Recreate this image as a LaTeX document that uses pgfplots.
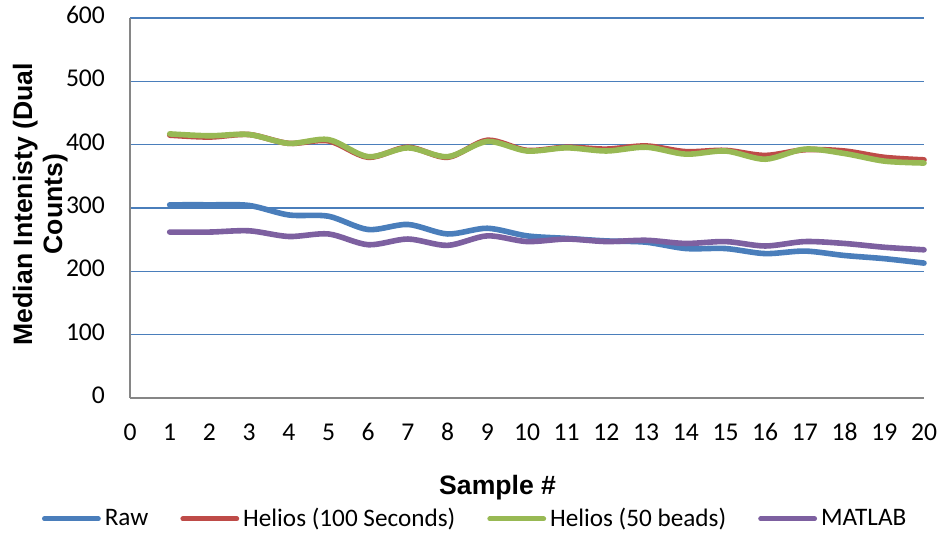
\documentclass[border=0pt]{standalone}
\usepackage{pgfplots}
\pgfplotsset{compat=1.18}
\usepackage{fontspec}
\setmainfont{Carlito}
\newfontfamily\labelfont{Liberation Sans}

\definecolor{rawblue}{HTML}{4A7EBB}
\definecolor{heliosred}{HTML}{BE4B48}
\definecolor{heliosgreen}{HTML}{98B954}
\definecolor{matlabpurple}{HTML}{7D60A0}
\definecolor{gridblue}{HTML}{4A7EBB}
\definecolor{axisgray}{HTML}{868686}

\begin{document}
\begin{tikzpicture}
\begin{axis}[
  name=ax,
  scale only axis,
  width=397pt, height=190pt,
  xmin=0, xmax=20, ymin=0, ymax=600,
  xtick={0,1,...,20}, ytick={0,100,...,600},
  axis lines*=left,
  axis line style={draw=axisgray, line width=0.8pt},
  major tick length=0pt,
  ymajorgrids,
  grid style={draw=gridblue, line width=0.7pt},
  tick label style={font=\fontsize{12.8}{14}\selectfont},
  /pgf/number format/assume math mode=true,
  typeset ticklabels with strut,
  xticklabel style={yshift=-8pt},
  yticklabel style={xshift=-9pt},
  xlabel={\labelfont\bfseries Sample \#},
  xlabel style={at={(axis description cs:0.463,-0.237)}, anchor=center, font=\fontsize{13.3}{15}\selectfont},
  ylabel={\labelfont\bfseries Median Intenisty (Dual\\\labelfont\bfseries Counts)},
  ylabel style={at={(axis description cs:-0.113,0.51)}, anchor=center, align=center,
    font=\fontsize{13.3}{15}\selectfont},
  legend columns=4,
  legend style={draw=none, fill=none, at={(axis description cs:0.436,-0.318)}, anchor=center,
    font=\fontsize{12.6}{14}\selectfont, inner sep=0pt,
    /tikz/every even column/.append style={column sep=14pt}},
  legend cell align=left,
  legend image code/.code={\draw[#1, line width=2.4pt, line cap=round] (0pt,0pt) -- (27pt,0pt);},
  every axis plot/.append style={line width=2.8pt, smooth, tension=0.5, line cap=round, line join=round},
  clip=false,
]
% Raw counts
\addplot[rawblue] coordinates {
(1,305) (2,305) (3,304) (4,289) (5,287) (6,266) (7,274) (8,259) (9,268) (10,256)
(11,252) (12,248) (13,246) (14,236) (15,236) (16,228) (17,232) (18,225) (19,220) (20,213)};
\addlegendentry{Raw}
% Helios, 100 second window
\addplot[heliosred] coordinates {
(1,415) (2,412) (3,416) (4,402) (5,406) (6,380) (7,396) (8,380) (9,407) (10,391)
(11,396) (12,393) (13,398) (14,389) (15,391) (16,383) (17,392) (18,390) (19,380) (20,376)};
\addlegendentry{Helios (100 Seconds)}
% Helios, 50 bead window
\addplot[heliosgreen] coordinates {
(1,417) (2,414) (3,416) (4,402) (5,408) (6,381) (7,395) (8,381) (9,405) (10,390)
(11,395) (12,390) (13,396) (14,385) (15,390) (16,377) (17,393) (18,386) (19,374) (20,371)};
\addlegendentry{Helios (50 beads)}
% MATLAB processing
\addplot[matlabpurple] coordinates {
(1,262) (2,262) (3,264) (4,255) (5,259) (6,242) (7,251) (8,241) (9,256) (10,247)
(11,251) (12,247) (13,249) (14,244) (15,247) (16,240) (17,247) (18,244) (19,238) (20,234)};
\addlegendentry{MATLAB}
\end{axis}
\pgfresetboundingbox
\path[use as bounding box] ([shift={(-65pt,-68pt)}]ax.south west) rectangle ([shift={(406pt,199pt)}]ax.south west);
\end{tikzpicture}
\end{document}
